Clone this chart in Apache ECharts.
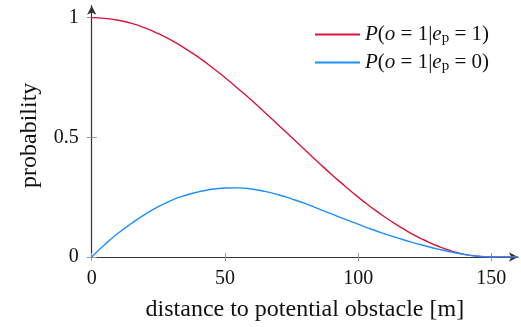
<!DOCTYPE html>
<html>
<head>
<meta charset="utf-8">
<script src="https://cdn.jsdelivr.net/npm/echarts@6/dist/echarts.min.js"></script>
<style>html,body{margin:0;padding:0;background:#fff}#c{width:521px;height:327px}</style>
</head>
<body>
<div id="c"></div>
<script>
const distances = [0, 5, 10, 15, 20, 25, 30, 35, 40, 45, 50, 55, 60, 65, 70, 75, 80, 85, 90, 95, 100, 105, 110, 115, 120, 125, 130, 135, 140, 145, 150, 155, 160];
const pObstacleEp1 = [1.000, 0.997, 0.989, 0.976, 0.957, 0.933, 0.905, 0.872, 0.835, 0.794, 0.750, 0.703, 0.655, 0.604, 0.552, 0.500, 0.448, 0.396, 0.345, 0.297, 0.250, 0.207, 0.167, 0.131, 0.098, 0.070, 0.045, 0.025, 0.011, 0.003, 0.000, 0.000, 0.000];
const pObstacleEp0 = [0.000, 0.053, 0.100, 0.141, 0.178, 0.210, 0.237, 0.257, 0.272, 0.283, 0.288, 0.289, 0.284, 0.274, 0.260, 0.243, 0.224, 0.202, 0.180, 0.158, 0.137, 0.116, 0.097, 0.079, 0.062, 0.047, 0.033, 0.021, 0.010, 0.003, 0.000, 0.000, 0.000];
const xTicks = [0, 50, 100, 150];
const yTicks = [0, 0.5, 1];
const seriesNames = ['ep1', 'ep0'];

const FONT = '"Liberation Serif", "DejaVu Serif", serif';
const RED = '#dc143c';
const BLUE = '#1e8fff';

const legendRich = {
  it: {fontFamily: FONT, fontStyle: 'italic', fontSize: 21, color: '#111'},
  n: {fontFamily: FONT, fontSize: 21, color: '#111'},
  sub: {fontFamily: FONT, fontSize: 15, color: '#111', padding: [8, 0, 0, 0]}
};

function pairs(xs, ys) { return xs.map((x, i) => [x, ys[i]]); }

const chart = echarts.init(document.getElementById('c'), null, {renderer: 'canvas'});
const axisBase = {
  type: 'value',
  splitLine: {show: false},
  axisLine: {show: true, lineStyle: {color: '#333', width: 1.2}},
};
chart.setOption({
  animation: false,
  backgroundColor: '#fff',
  grid: {left: 91.7, right: 3, top: 5.7, bottom: 69.7, containLabel: false},
  legend: {
    orient: 'vertical', left: 310, top: 19, itemWidth: 45, itemHeight: 2, itemGap: 6,
    icon: 'rect',
    data: seriesNames,
    formatter: function (name) {
      const v = name === 'ep1' ? '1' : '0';
      return '{it|P}{n|(}{it|o}{n| = 1|}{it|e}{sub|p}{n| = ' + v + ')}';
    },
    textStyle: {fontFamily: FONT, fontSize: 21, rich: legendRich}
  },
  xAxis: [
    Object.assign({}, axisBase, {
      min: 0, max: 160,
      axisLine: {show: true, symbol: ['none', 'arrow'], symbolSize: [7, 9], lineStyle: {color: '#333', width: 1.2}},
      axisTick: {show: true, length: 4, customValues: xTicks, lineStyle: {color: '#999'}},
      axisLabel: {customValues: xTicks, fontFamily: FONT, fontSize: 20, color: '#111', margin: 12},
      name: 'distance to potential obstacle [m]', nameLocation: 'middle', nameGap: 41,
      nameTextStyle: {fontFamily: FONT, fontSize: 24, color: '#111'}
    }),
    Object.assign({}, axisBase, {
      min: 0, max: 160, position: 'bottom',
      axisLine: {show: false},
      axisTick: {show: true, inside: true, length: 4, customValues: xTicks, lineStyle: {color: '#999'}},
      axisLabel: {show: false}
    })
  ],
  yAxis: [
    Object.assign({}, axisBase, {
      min: 0, max: 1.05,
      axisLine: {show: true, symbol: ['none', 'arrow'], symbolSize: [7, 9], lineStyle: {color: '#333', width: 1.2}},
      axisTick: {show: true, length: 5, customValues: yTicks, lineStyle: {color: '#999'}},
      axisLabel: {customValues: yTicks, fontFamily: FONT, fontSize: 20, color: '#111', margin: 13},
      name: 'probability', nameLocation: 'middle', nameGap: 50, nameRotate: 90,
      nameTextStyle: {fontFamily: FONT, fontSize: 24, color: '#111', padding: [0, 8, 0, 0]}
    }),
    Object.assign({}, axisBase, {
      min: 0, max: 1.05, position: 'left',
      axisLine: {show: false},
      axisTick: {show: true, inside: true, length: 5, customValues: yTicks, lineStyle: {color: '#999'}},
      axisLabel: {show: false}
    })
  ],
  series: [
    {name: 'ep1', type: 'line', data: pairs(distances, pObstacleEp1), smooth: 0.5, showSymbol: false, symbol: 'none',
     lineStyle: {color: RED, width: 1.4}, itemStyle: {color: RED}, z: 3},
    {name: 'ep0', type: 'line', data: pairs(distances, pObstacleEp0), smooth: 0.5, showSymbol: false, symbol: 'none',
     lineStyle: {color: BLUE, width: 1.4}, itemStyle: {color: BLUE}, z: 3}
  ]
});
</script>
</body>
</html>
